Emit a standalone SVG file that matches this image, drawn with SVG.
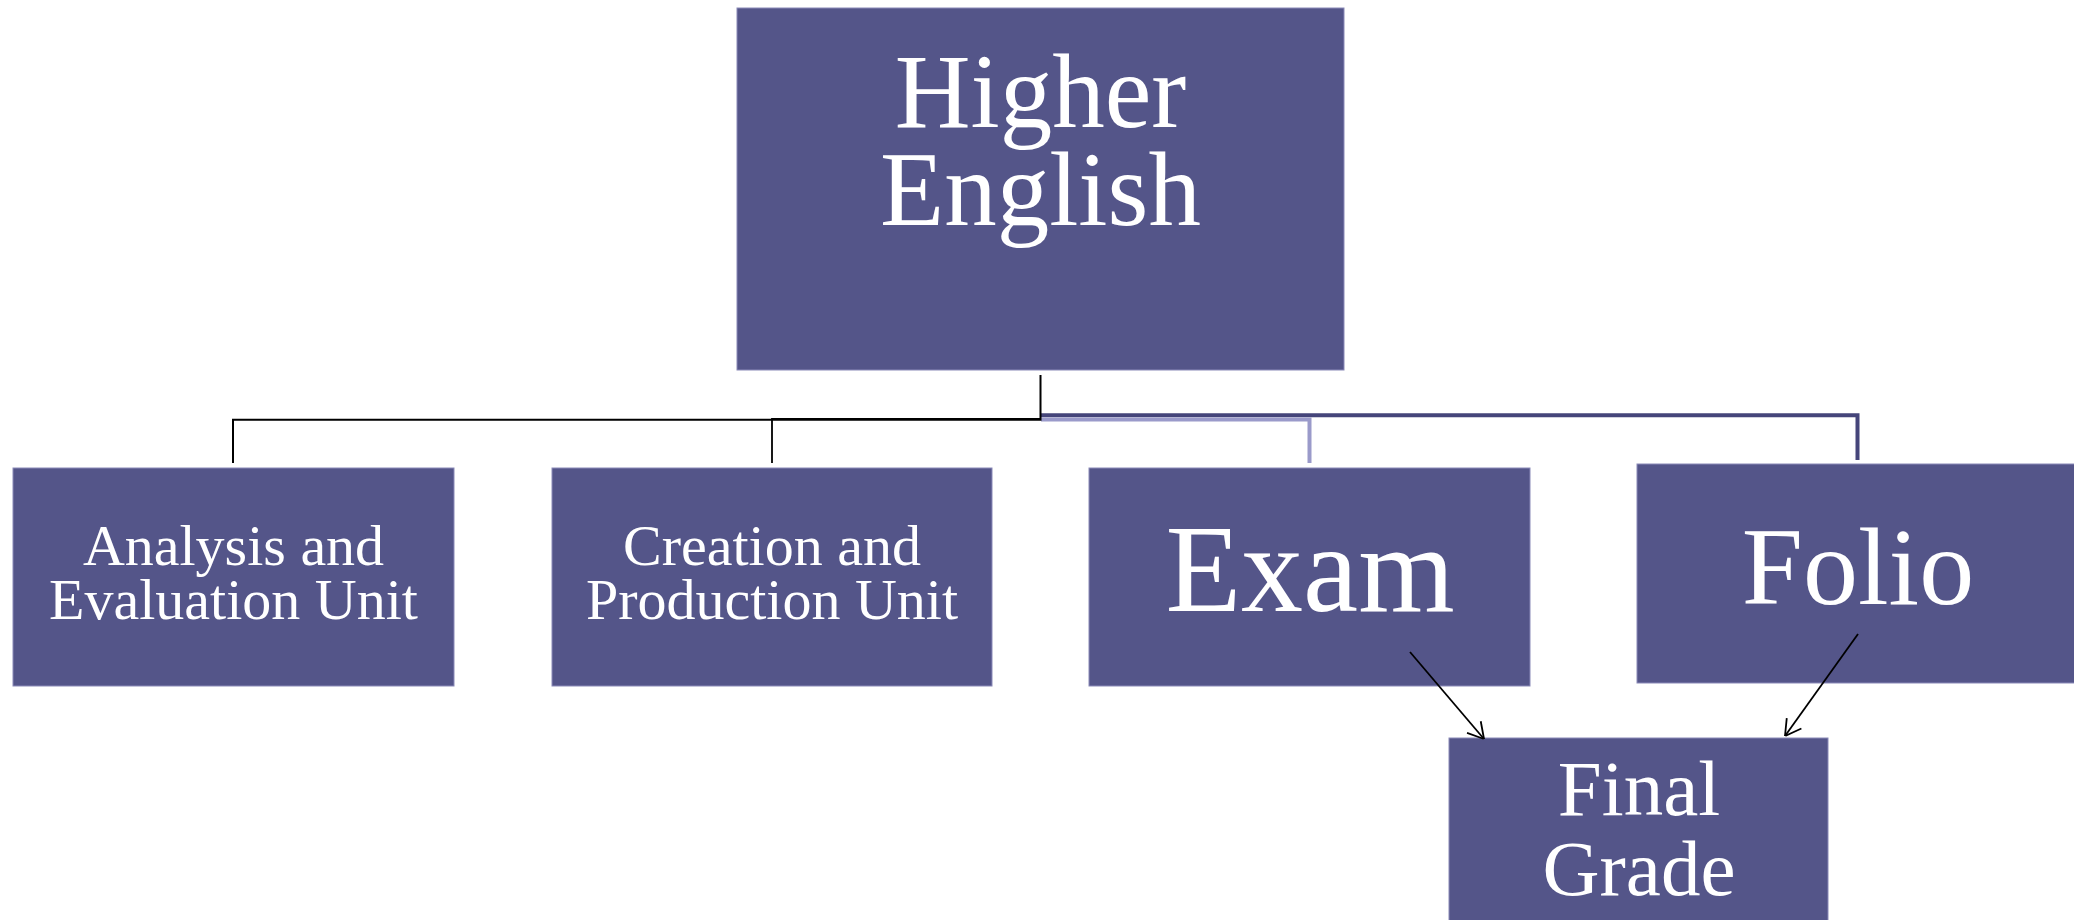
<svg xmlns="http://www.w3.org/2000/svg" width="2074" height="920" viewBox="0 0 2074 920">
<style>
.box{fill:#545589;stroke:#8a8ab8;stroke-width:1}
.t{font-family:'Liberation Serif','Times New Roman',serif;fill:#ffffff;text-anchor:middle}
.conn{fill:none}
</style>
<defs>
<marker id="arr" viewBox="0 0 20 20" refX="20" refY="10" markerWidth="20" markerHeight="20" markerUnits="userSpaceOnUse" orient="auto">
<path d="M4.4,1 L20,10 L4.4,19" fill="none" stroke="#000" stroke-width="1.8"/>
</marker>
</defs>
<rect width="2074" height="920" fill="#ffffff"/>
<g id="higher-english">
<rect class="box" x="737" y="8" width="607" height="362"/>
<text class="t" x="1040.5" y="127" font-size="105">Higher</text>
<text class="t" x="1040.5" y="225" font-size="105">English</text>
</g>
<g id="analysis-evaluation">
<rect class="box" x="13" y="468" width="441" height="218"/>
<text class="t" x="233.5" y="565" font-size="58">Analysis and</text>
<text class="t" x="233.5" y="619" font-size="58">Evaluation Unit</text>
</g>
<g id="creation-production">
<rect class="box" x="552" y="468" width="440" height="218"/>
<text class="t" x="772" y="565" font-size="58">Creation and</text>
<text class="t" x="772" y="619" font-size="58">Production Unit</text>
</g>
<g id="exam">
<rect class="box" x="1089" y="468" width="441" height="218"/>
<text class="t" x="1310" y="611" font-size="124">Exam</text>
</g>
<g id="folio">
<rect class="box" x="1637" y="464" width="441" height="219"/>
<text class="t" x="1858" y="603.5" font-size="110">Folio</text>
</g>
<g id="final-grade">
<rect class="box" x="1449" y="738" width="379" height="190"/>
<text class="t" x="1639" y="815" font-size="79">Final</text>
<text class="t" x="1639" y="895" font-size="79">Grade</text>
</g>
<g id="connectors">
<path class="conn" d="M1041,415.3 H1857.5 V460" stroke="#45457a" stroke-width="4"/>
<path class="conn" d="M1041,419.5 H1309.5 V463" stroke="#9a9aca" stroke-width="4"/>
<path class="conn" d="M1040.5,419 H772 V463" stroke="#000" stroke-width="1.8"/>
<path class="conn" d="M1040.5,375 V419.8 H233 V463" stroke="#000" stroke-width="2"/>
<line x1="1410" y1="652" x2="1484" y2="739" stroke="#000" stroke-width="1.8" marker-end="url(#arr)"/>
<line x1="1858" y1="634" x2="1785" y2="736" stroke="#000" stroke-width="1.8" marker-end="url(#arr)"/>
</g>
</svg>
